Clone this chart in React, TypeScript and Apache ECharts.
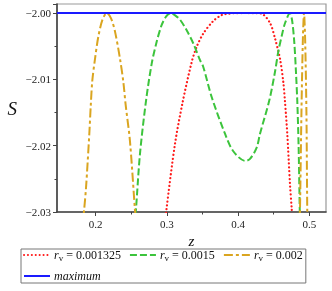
import React, { useEffect, useRef } from "react";
import * as echarts from "echarts";

const redZ = [0.297, 0.2995, 0.3114, 0.322, 0.3348, 0.3418, 0.3511, 0.3652, 0.377, 0.3862, 0.397, 0.41, 0.423, 0.4331, 0.4448, 0.4518, 0.4589, 0.4635, 0.4659, 0.4691, 0.4729, 0.4753, 0.4765];
const redS = [-2.0325, -2.0295, -2.0197, -2.0135, -2.0074, -2.0051, -2.0031, -2.0012, -2.0003, -2.0001, -2.00002, -2.0, -2.00002, -2.0001, -2.0015, -2.0038, -2.0069, -2.0104, -2.0134, -2.0182, -2.0258, -2.0295, -2.032];

const greenZ = [0.2545, 0.2566, 0.2622, 0.2707, 0.2787, 0.2857, 0.2927, 0.299, 0.3055, 0.312, 0.3184, 0.3278, 0.3371, 0.3465, 0.351, 0.363, 0.3816, 0.393, 0.41, 0.4167, 0.4261, 0.4308, 0.4438, 0.4518, 0.4565, 0.4612, 0.466, 0.4728, 0.476, 0.479, 0.4813, 0.4832, 0.485, 0.4862, 0.487];
const greenS = [-2.032, -2.0295, -2.0212, -2.0132, -2.0076, -2.0043, -2.0018, -2.0005, -2.0, -2.0004, -2.001, -2.0026, -2.0046, -2.0071, -2.0081, -2.0127, -2.0182, -2.0208, -2.0223, -2.022, -2.0203, -2.0182, -2.0132, -2.0089, -2.0058, -2.0035, -2.0015, -2.0, -2.0012, -2.0045, -2.0089, -2.0134, -2.02, -2.027, -2.032];

const orangeZ1 = [0.1815, 0.1836, 0.1864, 0.191, 0.193, 0.1952, 0.199, 0.2036, 0.2095, 0.2158, 0.2215, 0.2271, 0.2341, 0.2388, 0.2421, 0.248, 0.2552, 0.257];
const orangeS1 = [-2.032, -2.0298, -2.0263, -2.0182, -2.014, -2.0102, -2.0069, -2.0036, -2.001, -2.0, -2.0008, -2.0028, -2.0069, -2.0104, -2.0139, -2.0192, -2.0298, -2.032];
const orangeZ2 = [0.4862, 0.4869, 0.489, 0.491, 0.4926, 0.4942, 0.496, 0.4972, 0.4978];
const orangeS2 = [-2.032, -2.03, -2.015, -2.004, -2.0, -2.004, -2.015, -2.03, -2.032];

const maxZ = [0.1456, 0.5235];
const maxS = [-2.0, -2.0];

const xTicks = [0.2, 0.3, 0.4, 0.5];
const xMinorTicks = [0.25, 0.35, 0.45];

const names = ["r1", "r2", "r3", "maximum"];
const legendText: Record<string, string> = {
  r1: "{i|r}{s|v}{t| = 0.001325}",
  r2: "{i|r}{s|v}{t| = 0.0015}",
  r3: "{i|r}{s|v}{t| = 0.002}",
  maximum: "{m|maximum}",
};

const pairs = (a: number[], b: number[]) => a.map((v, i) => [v, b[i]]);

const FONT = "Liberation Serif";

export default function App() {
  const ref = useRef<HTMLDivElement>(null);
  useEffect(() => {
    const chart = echarts.init(ref.current!, null, { renderer: "svg" });
    const xMin = 0.1456;
    const xMax = 0.5235;
    chart.setOption({
      animation: false,
      textStyle: { fontFamily: FONT },
      grid: {
        left: 57,
        top: 4,
        right: 6,
        bottom: 79,
        show: true,
        borderColor: "#999",
        borderWidth: 1.2,
      },
      legend: {
        data: names,
        left: 21,
        top: 249,
        width: 294,
        orient: "horizontal",
        borderColor: "#777",
        borderWidth: 1,
        padding: [0, 3, 1, 2],
        itemWidth: 26,
        itemHeight: 12,
        itemGap: 8,
        itemStyle: { color: "transparent", borderColor: "transparent", borderWidth: 0, opacity: 0 },
        formatter: (n: string) => legendText[n],
        textStyle: {
          fontFamily: FONT,
          fontSize: 12,
          color: "#111",
          padding: [0, 0, 0, -1],
          rich: {
            i: { fontStyle: "italic", fontFamily: FONT, fontSize: 12, color: "#111" },
            s: { fontFamily: FONT, fontSize: 9, color: "#111", padding: [5, 0, 0, 0] },
            t: { fontFamily: FONT, fontSize: 12, color: "#111" },
            m: { fontStyle: "italic", fontFamily: FONT, fontSize: 12, color: "#111" },
          },
        },
      },
      xAxis: [
        {
          type: "value",
          min: xMin,
          max: xMax,
          name: "z",
          nameLocation: "middle",
          nameGap: 13,
          nameTextStyle: { fontFamily: FONT, fontStyle: "italic", fontSize: 15, color: "#111" },
          axisLine: { show: true, onZero: false, lineStyle: { color: "#444", width: 1.6 } },
          axisTick: { show: true, length: 4, inside: false, customValues: xTicks, lineStyle: { color: "#444" } },
          axisLabel: {
            customValues: xTicks,
            formatter: (v: number) => String(Math.round(v * 10) / 10),
            fontFamily: FONT,
            fontSize: 11,
            color: "#222",
            margin: 6,
          },
          splitLine: { show: false },
        },
        {
          type: "value",
          min: xMin,
          max: xMax,
          position: "bottom",
          axisLine: { show: false },
          axisTick: { show: true, length: 2.5, customValues: xMinorTicks, lineStyle: { color: "#444" } },
          axisLabel: { show: false, customValues: xMinorTicks },
          splitLine: { show: false },
        },
      ],
      yAxis: {
        type: "value",
        min: -2.03,
        max: -1.99864,
        interval: 0.01,
        name: "S",
        nameLocation: "middle",
        nameRotate: 0,
        nameGap: 40,
        nameTextStyle: { fontFamily: FONT, fontStyle: "italic", fontSize: 19, color: "#111" },
        axisLine: { show: true, onZero: false, lineStyle: { color: "#444", width: 1.6 } },
        axisTick: { show: true, length: 4, lineStyle: { color: "#444" } },
        minorTick: { show: true, splitNumber: 2, length: 2.5, lineStyle: { color: "#444" } },
        axisLabel: {
          formatter: (v: number) => (v > -1.999 ? "" : "\u2212" + Math.abs(v).toFixed(2)),
          fontFamily: FONT,
          fontSize: 11,
          color: "#222",
          margin: 6,
        },
        splitLine: { show: false },
        minorSplitLine: { show: false },
      },
      series: [
        {
          name: "r1",
          type: "line",
          data: pairs(redZ, redS),
          showSymbol: false,
          symbol: "none",
          smooth: 0.3,
          color: "#ff1a1a",
          lineStyle: { color: "#ff1a1a", width: 2.2, type: [0.1, 3.8], cap: "round" },
        },
        {
          name: "r2",
          type: "line",
          data: pairs(greenZ, greenS),
          showSymbol: false,
          symbol: "none",
          smooth: 0.3,
          color: "#3cc43c",
          lineStyle: { color: "#3cc43c", width: 2, type: [7, 3] },
        },
        {
          name: "r3",
          type: "line",
          data: pairs(orangeZ1, orangeS1),
          showSymbol: false,
          symbol: "none",
          smooth: 0.3,
          color: "#daa520",
          lineStyle: { color: "#daa520", width: 2, type: [9, 3, 3, 3] },
        },
        {
          name: "r3",
          type: "line",
          data: pairs(orangeZ2, orangeS2),
          showSymbol: false,
          symbol: "none",
          smooth: 0.3,
          color: "#daa520",
          lineStyle: { color: "#daa520", width: 2, type: [9, 3, 3, 3] },
        },
        {
          name: "maximum",
          type: "line",
          data: pairs(maxZ, maxS),
          showSymbol: false,
          symbol: "none",
          color: "#1a1aff",
          lineStyle: { color: "#1a1aff", width: 2 },
        },
      ],
    });
    return () => chart.dispose();
  }, []);
  return <div ref={ref} style={{ position: "fixed", left: 0, top: 0, width: 332, height: 291 }} />;
}
